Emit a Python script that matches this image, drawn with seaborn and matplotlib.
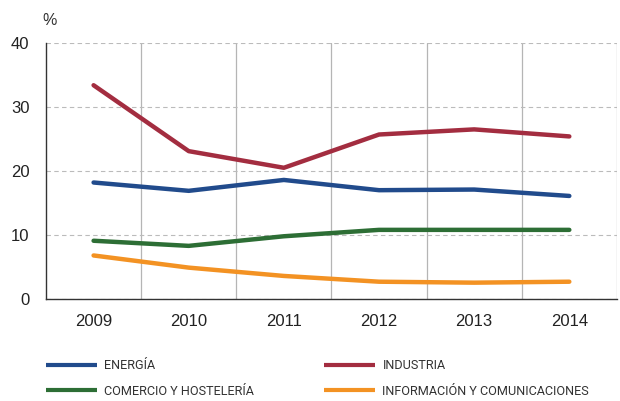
import numpy as np
import pandas as pd
import matplotlib
matplotlib.use('Agg')
import matplotlib.pyplot as plt
from matplotlib.ticker import FixedLocator
import seaborn as sns

# =============================
# Data
# =============================
years = ['2009', '2010', '2011', '2012', '2013', '2014']
energia = [18.2, 16.9, 18.6, 17.0, 17.1, 16.1]
industria = [33.4, 23.1, 20.5, 25.7, 26.5, 25.4]
comercio = [9.1, 8.3, 9.8, 10.8, 10.8, 10.8]
informacion = [6.8, 4.9, 3.6, 2.7, 2.55, 2.7]

series_names = ['ENERGÍA', 'COMERCIO Y HOSTELERÍA', 'INDUSTRIA',
                'INFORMACIÓN Y COMUNICACIONES']
colors = ['#214b8c', '#2d6e35', '#a32d40', '#f39223']

df = pd.DataFrame({
    'year': years * 4,
    'value': energia + comercio + industria + informacion,
    'serie': np.repeat(series_names, len(years)),
})

# =============================
# Plot
# =============================
sns.set_style('white')
plt.rcParams['font.family'] = ['Liberation Sans', 'DejaVu Sans']

fig = plt.figure(figsize=(6.2, 4.01), dpi=100)
ax = fig.add_axes([0.0742, 0.2544, 0.9208, 0.6384])

sns.lineplot(data=df, x='year', y='value', hue='serie',
             hue_order=series_names, palette=colors,
             linewidth=3.2, ax=ax, legend=False, sort=False)

ax.set_xlim(-0.5, 5.5)
ax.set_ylim(0, 40)
ax.set_yticks([0, 10, 20, 30, 40])
ax.set_xticks(range(len(years)))
ax.set_xticklabels(years)
ax.xaxis.set_minor_locator(FixedLocator(np.arange(0.5, 6, 1)))

ax.tick_params(axis='x', which='major', length=0, pad=11,
               labelsize=12, colors='#222222')
ax.tick_params(axis='x', which='minor', length=5, width=1,
               direction='in', color='#333333')
ax.tick_params(axis='y', length=6, width=1, direction='in',
               color='#333333', labelsize=12, labelcolor='#222222', pad=12)

ax.grid(axis='y', which='major', linestyle=(0, (4, 3)), color='#bbbbbb',
        linewidth=0.8)
ax.grid(axis='x', which='minor', linestyle='-', color='#b5b5b5',
        linewidth=0.9)
ax.set_axisbelow(True)

for side in ['top', 'right']:
    ax.spines[side].set_visible(False)
for side in ['left', 'bottom']:
    ax.spines[side].set_color('#333333')
    ax.spines[side].set_linewidth(1)

ax.set_xlabel('')
ax.set_ylabel('')
fig.text(50 / 620, 0.948, '%', fontsize=11.5, color='#333333',
         ha='center', va='center')

# =============================
# Legend (two columns, placed one by one)
# =============================
handles = [plt.Line2D([], [], color=c, linewidth=3.0, solid_capstyle='butt')
           for c in colors]
leg_kw = dict(loc='center left', frameon=False,
              prop={'family': ['Roboto', 'DejaVu Sans'], 'size': 9.1},
              handlelength=4.0, handletextpad=0.62, labelspacing=1.0,
              borderpad=0, borderaxespad=0)
leg1 = fig.legend(handles[:2], series_names[:2],
                  bbox_to_anchor=(46 / 620, 1 - 378.5 / 401), **leg_kw)
leg2 = fig.legend(handles[2:], series_names[2:],
                  bbox_to_anchor=(324 / 620, 1 - 378.5 / 401), **leg_kw)
for leg in (leg1, leg2):
    for t in leg.get_texts():
        t.set_color('#333333')

fig.savefig('out.png', dpi=100)
